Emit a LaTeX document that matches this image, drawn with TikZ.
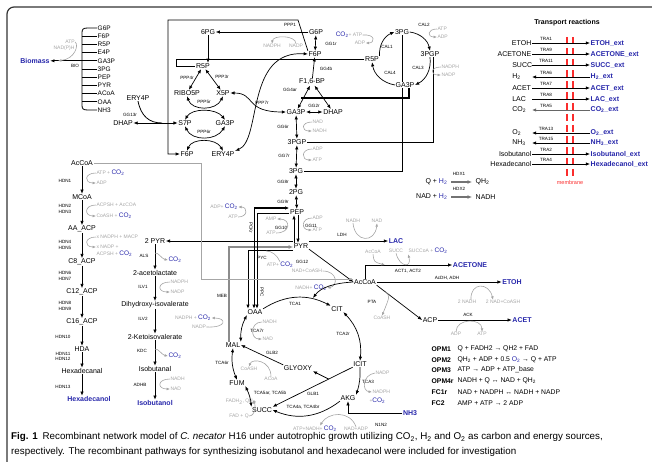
\documentclass[tikz,border=0pt]{standalone}
\usepackage{fontspec}
\setmainfont{Liberation Sans}
\usepackage{tikz}
\usetikzlibrary{arrows.meta}

\definecolor{prodblue}{RGB}{38,38,170}
\definecolor{cofgray}{RGB}{165,165,165}
\definecolor{membred}{RGB}{250,45,45}
\newcommand{\COtwo}{{\color{prodblue}\fontsize{6.5}{6.5}\selectfont CO\textsubscript{2}}}
\newcommand{\Htwo}{{\color{prodblue}H\textsubscript{2}}}

\begin{document}
\begin{tikzpicture}[x=1pt,y=-1pt]
    \tikzset{met/.style = {shape=rectangle,draw=none,inner sep=0.5pt,font=\fontsize{7}{7}\selectfont}}
    \tikzset{bmet/.style = {met,anchor=west,font=\fontsize{6.5}{6.5}\selectfont}}
    \tikzset{prod/.style = {met,text=prodblue,font=\fontsize{7}{7}\selectfont\bfseries}}
    \tikzset{rxn/.style = {inner sep=0pt,font=\fontsize{4.6}{4.6}\selectfont}}
    \tikzset{cof/.style = {inner sep=0.3pt,text=cofgray,font=\fontsize{5}{5}\selectfont}}
    \tikzset{opm/.style = {met,anchor=west,font=\fontsize{6.8}{6.8}\selectfont}}
    \tikzset{edge/.style = {->,> = {Latex[length=4.2pt,width=3.4pt]},line width=0.7pt}}
    \tikzset{edge2/.style = {<->,> = {Latex[length=4.2pt,width=3.4pt]},line width=0.7pt}}
    \tikzset{cofedge/.style = {->,> = {Latex[length=3.4pt,width=2.8pt]},draw=cofgray,line width=0.6pt}}
    \tikzset{link/.style = {line width=0.8pt}}
    \tikzset{fat/.style = {line width=1.1pt}}
    \tikzset{membrane/.style = {draw=membred,line width=1.6pt,dash pattern=on 7.5pt off 3.5pt}}

    \useasboundingbox (0,0) rectangle (652,462);
    \draw[line width=1.2pt,black!80,rounded corners=7pt] (7,462) -- (7,7) -- (652,7);

    % biomass

    \node[prod] (biomass) at (35,60.8) {Biomass};
    \node[bmet] (bg6p) at (97,28) {G6P};
    \node[bmet] (bf6p) at (97,36.2) {F6P};
    \node[bmet] (br5p) at (97,44.4) {R5P};
    \node[bmet] (be4p) at (97,52.6) {E4P};
    \node[bmet] (bga3p) at (97,60.8) {GA3P};
    \node[bmet] (b3pg) at (97,69) {3PG};
    \node[bmet] (bpep) at (97,77.2) {PEP};
    \node[bmet] (bpyr) at (97,85.4) {PYR};
    \node[bmet] (bacoa) at (97,93.6) {ACoA};
    \node[bmet] (boaa) at (97,101.8) {OAA};
    \node[bmet] (bnh3) at (97,110) {NH3};
    \draw[link] (bg6p.west) -- (88,28) .. controls (83,28) and (82,29) .. (82,33) -- (82,105) .. controls (82,109) and (83,110) .. (88,110) -- (bnh3.west);
    \draw[link] (bf6p.west) -- ++(-15,0);
    \draw[link] (br5p.west) -- ++(-15,0);
    \draw[link] (be4p.west) -- ++(-15,0);
    \draw[link] (bga3p.west) -- ++(-15,0);
    \draw[link] (b3pg.west) -- ++(-15,0);
    \draw[link] (bpep.west) -- ++(-15,0);
    \draw[link] (bpyr.west) -- ++(-15,0);
    \draw[link] (bacoa.west) -- ++(-15,0);
    \draw[link] (boaa.west) -- ++(-15,0);
    \draw[edge] ([xshift=-15pt]bga3p.west) -- (biomass.east);
    \node[rxn] (bio) at (75,66) {BIO};
    \node[cof] (batp) at (70,42) {ATP};
    \node[cof] (bnadph) at (64,48) {NAD(P)H};
    \coordinate (bioin) at (58,60.8);
    \draw[cofedge] (batp.east) .. controls (79,45) and (75,59) .. (bioin);

    % pentose phosphate

    \node[met] (sixpg) at (208,32) {6PG};
    \node[met] (r5p) at (203,66) {R5P};
    \node[met] (ribo5p) at (187,93) {RIBO5P};
    \node[met] (x5p) at (223,93) {X5P};
    \node[met] (s7p) at (185,123) {S7P};
    \node[met] (ga3pp) at (225,123) {GA3P};
    \node[met] (f6pp) at (187,154) {F6P};
    \node[met] (ery4p) at (223,154) {ERY4P};
    \node[met] (ery4pl) at (138,98) {ERY4P};
    \node[met] (dhapl) at (123,123) {DHAP};
    \draw[edge] (sixpg) -- (sixpg |- r5p.north);
    \draw[edge2] (r5p) -- (ribo5p);
    \draw[edge2] (r5p) -- (x5p);
    \node[rxn] at (187,78) {PPP4r};
    \node[rxn] at (222,77) {PPP3r};
    \draw[edge2] (ribo5p.south) .. controls (192,111) and (216,111) .. (x5p.south);
    \draw[edge2] (s7p.north) .. controls (192,108) and (216,108) .. (ga3pp.north);
    \node[rxn] at (204,102) {PPP5r};
    \draw[edge2] (s7p.south) .. controls (192,141) and (216,141) .. (ga3pp.south);
    \draw[edge2] (f6pp.north) .. controls (192,138) and (216,138) .. (ery4p.north);
    \node[rxn] at (204,132) {PPP6r};
    \coordinate (gg13in) at (162,123);
    \draw[edge2] (dhapl.east) -- (s7p.west);
    \draw[link] (ery4pl.south) .. controls (141,116) and (149,123) .. (gg13in);
    \node[rxn] at (130,115) {GG13r};

    % glycolysis

    \node[met] (g6p) at (316,32) {G6P};
    \node[met] (f6p) at (315,54) {F6P};
    \node[met] (fbp) at (312,82) {F1,6-BP};
    \node[met] (ga3p) at (296,112) {GA3P};
    \node[met] (dhap) at (333,112) {DHAP};
    \node[met] (bpg) at (297,142) {3PGP};
    \node[met] (pg3) at (296,171) {3PG};
    \node[met] (pg2) at (296,192) {2PG};
    \node[met] (pep) at (297,212) {PEP};
    \node[met] (pyr) at (301,246) {PYR};
    \draw[edge2] (g6p) -- (f6p);
    \node[rxn] at (331,44) {GG1r};
    \draw[edge] (fbp) -- (f6p);
    \node[rxn] at (326,69) {GG4b};
    \draw[edge2] (fbp) -- (ga3p);
    \draw[edge2] (fbp) -- (dhap);
    \node[rxn] at (290,90) {GG4ar};
    \draw[edge2] (ga3p) -- (dhap);
    \node[rxn] at (314,106) {GG2r};
    \draw[edge2] (ga3p) -- (bpg);
    \node[rxn] at (283,127) {GG6r};
    \node[cof,anchor=west] (nadg) at (312,122) {NAD};
    \node[cof,anchor=west] (nadhg) at (312,131) {NADH};
    \draw[cofedge] (nadg.west) .. controls (301,122) and (301,131) .. (nadhg.west);
    \draw[edge2] (bpg) -- (pg3);
    \node[rxn] at (284,156) {GG7r};
    \node[cof,anchor=west] (adpg) at (312,149) {ADP};
    \node[cof,anchor=west] (atpg) at (312,160) {ATP};
    \draw[cofedge] (adpg.west) .. controls (301,149) and (301,160) .. (atpg.west);
    \draw[edge2] (pg3) -- (pg2);
    \node[rxn] at (283,182) {GG8r};
    \draw[edge2] (pg2) -- (pep);
    \node[rxn] at (283,202) {GG9r};
    \draw[edge] ([xshift=-7pt]pyr.north) -- ([xshift=-3pt]pep.south);
    \draw[edge] ([xshift=1pt]pep.south) -- ([xshift=-3pt]pyr.north);
    \node[rxn] at (281,228) {GG10};
    \node[rxn] at (311,226) {GG11};
    \node[cof] (ampg) at (271,219) {AMP};
    \node[cof] (atpg10) at (271,233) {ATP};
    \draw[cofedge] (atpg10.east) .. controls (291,233) and (291,219) .. (ampg.east);
    \node[cof,anchor=west] (adpg11) at (312,218) {ADP};
    \node[cof,anchor=west] (atpg11) at (312,230) {ATP};
    \draw[cofedge] (adpg11.west) .. controls (301,218) and (301,230) .. (atpg11.west);

    % F6P box and R5P link

    \draw[edge] (f6p.north west) -- (298,20) -- (168,20) |- (f6pp.west);
    \draw[edge] (g6p.west) -- (sixpg.east);
    \node[rxn] at (290,25) {PPP1};
    \node[cof] (nadph1) at (272,46) {NADPH};
    \node[cof] (nadp1) at (296,46) {NADP};
    \draw[cofedge] (nadp1.north) .. controls (296,35) and (273,35) .. (nadph1.north);
    \node[rxn] at (262,103) {PPP7r};
    \draw[edge2] (x5p.east) .. controls (256,93) and (244,112) .. (ga3p.west);
    \draw[edge2] (f6p.west) .. controls (245,50) and (262,140) .. (ery4p.north east);

    % calvin cycle

    \node[met] (r5pc) at (372,59) {R5P};
    \node[met] (pg3c) at (402,32) {3PG};
    \node[met] (bpgc) at (430,54) {3PGP};
    \draw[link] (r5pc.west) -- (176,59) |- (r5p.west);
    \draw[link] (pg3c.south) |- (pg3.east);
    \draw[link] ([xshift=3pt]bpgc.south) |- (bpg.east);
    \node[met,fill=white] (ga3pc) at (405,85) {GA3P};
    \coordinate (ga3pj) at (301,98);
    \draw[fat] ([xshift=4pt]ga3pc.south) |- (ga3pj);
    \draw[edge] (r5pc.north east) to[bend left=35] (pg3c.west);
    \node[rxn] at (387,47) {CAL1};
    \node[cof] (catp) at (349,35) {\COtwo+ ATP};
    \node[cof] (cadp) at (360,43) {ADP};
    \draw[cofedge] (catp.east) .. controls (376,34) and (375,43) .. (cadp.east);
    \draw[edge] (pg3c.east) to[bend left=35] (bpgc.north);
    \node[rxn] at (424,25) {CAL2};
    \node[cof,anchor=west] (catp2) at (437,29) {ATP};
    \node[cof,anchor=west] (cadp2) at (437,37) {ADP};
    \draw[cofedge] (catp2.west) .. controls (427,29) and (427,37) .. (cadp2.west);
    \draw[edge] (bpgc.south) to[bend left=35] (ga3pc.east);
    \node[rxn] at (418,68) {CAL3};
    \node[cof,anchor=west] (cnadph) at (441,67) {NADPH};
    \node[cof,anchor=west] (cnadp) at (441,75) {NADP};
    \draw[cofedge] (cnadph.west) .. controls (430,67) and (430,75) .. (cnadp.west);
    \draw[edge] (ga3pc.west) to[bend left=35] (r5pc.south);
    \node[rxn] at (390,73) {CAL4};

    % anaplerotic and pyruvate nodes

    \node[met] (twopyr) at (155,241) {2 PYR};
    \node[prod] (lac) at (396,241) {LAC};
    \node[met] (oaa) at (255,312) {OAA};
    \node[met] (mal) at (233,345) {MAL};
    \node[met] (accoa) at (365,282) {AcCoA};
    \draw[edge] ([yshift=5pt]pyr.west) -- (twopyr.east);
    \draw[edge] ([yshift=5pt]pyr.east) -- (lac.west);
    \node[rxn] at (342,235) {LDH};
    \node[cof] (nadhl) at (353,221) {NADH};
    \node[cof] (nadl) at (377,221) {NAD};
    \draw[cofedge] (nadhl.south) .. controls (355,243) and (375,243) .. (nadl.south);
    \draw[line width=1.5pt,black!45,-{Latex[length=4.5pt,width=4pt]}] ([xshift=-4pt]mal.north) |- ([yshift=-1pt]pyr.west);
    \node[rxn] at (222,296) {MEB};
    \node[cof] (nadpco2) at (193,318) {NADPH + \COtwo};
    \node[cof] (nadpm) at (199,327) {NADP};
    \draw[cofedge] (nadpm.east) .. controls (227,328) and (227,318) .. (nadpco2.east);
    \draw[edge,line width=1pt] ([yshift=-4pt]pyr.west) -| ([xshift=-7pt]oaa.north);
    \draw[edge2,line width=1pt] ([xshift=-1pt]oaa.north) |- ([yshift=4pt]pep.west);
    \draw[edge,line width=1pt] ([yshift=-1pt]pep.west) -| ([xshift=2pt]oaa.north);
    \node[rxn,rotate=-90] at (251,228) {PCKr};
    \node[rxn,rotate=-90] at (262,292) {PPC};
    \node[rxn] at (262,258) {PYC};
    \node[cof] (atpco2p) at (280,265) {ATP+ \COtwo};
    \draw[draw=cofgray,line width=0.6pt] (atpco2p.north) .. controls (277,255) and (272,251) .. (266,251);
    \node[cof] (adpco2) at (224,207) {ADP+ \COtwo};
    \node[cof] (atpck) at (233,217) {ATP};
    \draw[cofedge] (atpck.east) .. controls (248,217) and (248,207) .. (adpco2.east);

    % acetyl-CoA branch

    \draw[edge] (pyr.south east) -- (accoa.west);
    \node[rxn] at (302,262) {GG12};
    \node[cof] (nadcoa) at (307,271) {NAD+CoASH};
    \node[cof] (nadhco2) at (311,288) {NADH+ \COtwo};
    \draw[cofedge] (nadcoa.east) .. controls (338,271) and (338,286) .. (nadhco2.east);
    \node[prod] (acetone) at (470,265) {ACETONE};
    \draw[edge] (accoa.north) |- (acetone.west);
    \node[rxn] at (408,271) {ACT1, ACT2};
    \node[cof] (accoag) at (373,252) {AcCoA};
    \node[cof] (succg) at (396,251) {SUCC};
    \node[cof] (succoa) at (428,251) {SUCCoA + \COtwo};
    \coordinate (actin) at (385,265);
    \draw[cofedge] (accoag.south) .. controls (374,262) .. (actin);
    \draw[cofedge] (succg.south) .. controls (400,268) and (412,268) .. (succoa.south west);
    \node[prod] (etoh) at (512,282) {ETOH};
    \draw[edge] (accoa.east) -- (etoh.west);
    \node[rxn] at (447,278) {AcDH, ADH};
    \node[cof] (nadh2) at (467,302) {2 NADH};
    \node[cof] (nadcoa2) at (503,302) {2 NAD+CoASH};
    \draw[cofedge] ([xshift=4pt]nadh2.north) .. controls (470,282) and (489,282) .. ([xshift=-10pt]nadcoa2.north);
    \node[met] (acp) at (430,320) {ACP};
    \node[prod] (acet) at (522,320) {ACET};
    \draw[edge] (accoa.south east) -- coordinate[pos=0.2] (ptam) (acp.west);
    \node[rxn] at (372,302) {PTA};
    \node[cof] (coashp) at (382,318) {CoASH};
    \draw[cofedge] (ptam) .. controls (390,296) .. (coashp.north);
    \draw[edge] (acp.east) -- (acet.west);
    \node[rxn] at (468,315) {ACK};
    \node[cof] (adpk) at (456,334) {ADP};
    \node[cof] (atpk) at (482,334) {ATP};
    \draw[cofedge] (adpk.north) .. controls (456,318) and (482,318) .. (atpk.north);
    \coordinate (acbend) at (201,163);

    % TCA cycle

    \node[met] (cit) at (337,309) {CIT};
    \node[met] (icit) at (360,364) {ICIT};
    \node[met] (akg) at (348,398) {AKG};
    \node[met] (succ) at (262,410) {SUCC};
    \node[met] (fum) at (237,383) {FUM};
    \node[met] (glyoxy) at (298,368) {GLYOXY};
    \coordinate (tca1in) at (313,298);
    \draw[edge] (oaa.north east) to[bend left=30] (cit.north west);
    \draw[edge] (accoa.west) .. controls (335,283) and (321,287) .. (tca1in);
    \node[rxn] at (295,304) {TCA1};
    \draw[edge2] (cit.south east) to[bend left=25] (icit.north);
    \node[rxn] at (343,334) {TCA2r};
    \draw[edge] (icit.south) to[bend left=10] (akg.north east);
    \node[rxn] at (368,382) {TCA3};
    \node[cof,anchor=west] (nadpt) at (375,373) {NADP};
    \node[cof,anchor=west] (nadpht) at (372,392) {NADPH};
    \node[cof,anchor=west] at (369,401) {+\COtwo};
    \draw[cofedge] (nadpt.west) .. controls (362,375) and (362,391) .. (nadpht.west);
    \draw[edge] (akg.south west) to[bend left=30] (succ.east);
    \node[rxn] at (303,407) {TCA4a, TCA4br};
    \node[cof] (atpnadh) at (315,429) {ATP+NADH+ \COtwo};
    \node[cof] (nadadp) at (356,429) {NAD+ADP};
    \draw[cofedge] (nadadp.north) .. controls (350,410) and (328,412) .. ([xshift=5pt]atpnadh.north);
    \node[prod] (nh3) at (410,413) {NH3};
    \draw[edge] (nh3.west) -| (akg.south);
    \node[rxn] at (381,425) {N1N2};
    \draw[edge2] (succ.north west) to[bend right=10] (fum.south east);
    \node[rxn] at (270,393) {TCA5ar, TCA5b};
    \node[cof] (fadh2) at (241,402) {FADH\textsubscript{2}, QH\textsubscript{2}};
    \node[cof] (fadq) at (239,416) {FAD + Q};
    \draw[cofedge] (fadq.east) .. controls (256,416) and (256,402) .. (fadh2.east);
    \draw[edge2] (fum.north) to[bend left=15] (mal.south);
    \node[rxn] at (222,363) {TCA6r};
    \draw[edge2] (mal.north east) to[bend left=15] (oaa.south west);
    \node[rxn] at (257,331) {TCA7r};
    \node[cof,anchor=west] (nadht) at (262,322) {NADH};
    \node[cof,anchor=west] (nadt) at (262,339) {NAD};
    \draw[cofedge] (nadht.west) .. controls (250,322) and (250,339) .. (nadt.west);
    \draw[edge] (icit.south west) -- coordinate[pos=0.3] (glbm) (succ.north east);
    \draw[edge] (glbm) -- (glyoxy.south east);
    \node[rxn] at (313,394) {GLB1};
    \draw[edge] (glyoxy.north west) -- (mal.east);
    \node[rxn] at (272,353) {GLB2};
    \node[cof] (coashg) at (249,369) {CoASH};
    \node[cof] (acoag) at (271,379) {ACoA};
    \draw[cofedge] (acoag.north) .. controls (271,360) and (252,358) .. (coashg.north);

    % hexadecanol pathway

    \node[met] (accoah) at (82,163) {AcCoA};
    \node[met] (mcoa) at (82,197) {MCoA};
    \node[met] (aaacp) at (82,229) {AA\_ACP};
    \node[met] (c8acp) at (82,262) {C8\_ACP};
    \node[met] (c12acp) at (82,292) {C12\_ACP};
    \node[met] (c16acp) at (82,322) {C16\_ACP};
    \node[met] (hda) at (82,349) {HDA};
    \node[met] (hexanal) at (82,371) {Hexadecanal};
    \node[prod] (hexanol) at (89,399) {Hexadecanol};
    \draw[gray!70,line width=0.9pt] ([yshift=3pt]accoa.west) -| (acbend) -- (accoah.east);
    \draw[edge] (accoah) -- (mcoa);
    \node[rxn] at (65,181) {HDN1};
    \node[cof,anchor=west] (atph) at (96,173) {ATP + \COtwo};
    \node[cof,anchor=west] (adph) at (96,183) {ADP};
    \draw[cofedge] (atph.west) .. controls (84,173) and (84,183) .. (adph.west);
    \draw[edge] (mcoa) -- (aaacp);
    \node[rxn] at (65,206) {HDN2};
    \node[rxn] at (65,212) {HDN3};
    \node[cof,anchor=west] (acpsh) at (96,205) {ACPSH + AcCOA};
    \node[cof,anchor=west] (coashh) at (96,216) {CoASH + \COtwo};
    \draw[cofedge] (acpsh.west) .. controls (84,205) and (84,216) .. (coashh.west);
    \draw[edge] (aaacp) -- (c8acp);
    \node[rxn] at (65,242) {HDN4};
    \node[rxn] at (65,248) {HDN5};
    \node[cof,anchor=west] (xnadph) at (96,237) {x NADPH + MACP};
    \node[cof,anchor=west] (xnadp) at (96,247) {x NADP +};
    \node[cof,anchor=west] at (96,254) {ACPSH + \COtwo};
    \draw[cofedge] (xnadph.west) .. controls (84,237) and (84,247) .. (xnadp.west);
    \draw[edge] (c8acp) -- (c12acp);
    \node[rxn] at (65,273) {HDN6};
    \node[rxn] at (65,279) {HDN7};
    \draw[edge] (c12acp) -- (c16acp);
    \node[rxn] at (65,303) {HDN8};
    \node[rxn] at (65,309) {HDN9};
    \draw[edge] (c16acp) -- (hda);
    \node[rxn] at (63,337) {HDN10};
    \draw[edge] (hda) -- (hexanal);
    \node[rxn] at (63,354) {HDN11};
    \node[rxn] at (63,359) {HDN12};
    \draw[edge] (hexanal.south) -- (hexanal.south |- hexanol.north);
    \node[rxn] at (63,387) {HDN13};

    % isobutanol pathway

    \node[met] (acetolac) at (155,273) {2-acetolactate};
    \node[met] (dihyd) at (155,305) {Dihydroxy-isovalerate};
    \node[met] (keto) at (155,337) {2-Ketoisovalerate};
    \node[met] (isobutanal) at (155,369) {Isobutanal};
    \node[prod] (isobutanol) at (155,403) {Isobutanol};
    \draw[edge] (twopyr) -- coordinate[pos=0.35] (alsm) (acetolac);
    \node[rxn] at (144,256) {ALS};
    \node[cof,anchor=west] (co2als) at (168,260) {\COtwo};
    \draw[cofedge] (alsm) .. controls (158,252) and (162,259) .. (co2als.west);
    \draw[edge] (acetolac) -- (dihyd);
    \node[rxn] at (143,287) {ILV1};
    \node[cof,anchor=west] (nadphi) at (170,282) {NADPH};
    \node[cof,anchor=west] (nadpi) at (170,292) {NADP};
    \draw[cofedge] (nadphi.west) .. controls (157,282) and (157,292) .. (nadpi.west);
    \draw[edge] (dihyd) -- (keto);
    \node[rxn] at (143,319) {ILV2};
    \draw[edge] (keto) -- coordinate[pos=0.35] (kdcm) (isobutanal);
    \node[rxn] at (142,351) {KDC};
    \node[cof,anchor=west] (co2kdc) at (168,356) {\COtwo};
    \draw[cofedge] (kdcm) .. controls (158,348) and (162,355) .. (co2kdc.west);
    \draw[edge] (isobutanal) -- (isobutanol);
    \node[rxn] at (140,385) {ADHB};
    \node[cof,anchor=west] (nadhi) at (170,379) {NADH};
    \node[cof,anchor=west] (nadi) at (170,389) {NAD};
    \draw[cofedge] (nadhi.west) .. controls (157,379) and (157,389) .. (nadi.west);

    % transport reactions

    \node[met,font=\fontsize{7}{7}\selectfont\bfseries] (trtitle) at (567,23) {Transport reactions};
    \draw[membrane] (567,37) -- (567,177);
    \draw[membrane] (573,37) -- (573,177);
    \node[met,text=membred,font=\fontsize{5.5}{5.5}\selectfont] (membr) at (570,183) {membrane};
    \node[met,anchor=east] (tetoh) at (532,43) {ETOH};
    \node[prod,anchor=west] (tetohx) at (590,43) {ETOH\_ext};
    \draw[edge] (tetoh.east) -- (tetohx.west);
    \node[rxn] at (546,39) {TRA1};
    \node[met,anchor=east] (tacetone) at (532,54) {ACETONE};
    \node[prod,anchor=west] (tacetonex) at (590,54) {ACETONE\_ext};
    \draw[edge] (tacetone.east) -- (tacetonex.west);
    \node[rxn] at (546,50) {TRA9};
    \node[met,anchor=east,text width=19pt,align=left] (tsucc) at (532,65) {SUCC};
    \node[prod,anchor=west] (tsuccx) at (590,65) {SUCC\_ext};
    \draw[edge] (tsucc.east) -- (tsuccx.west);
    \node[rxn] at (546,61) {TRA11};
    \node[met,anchor=east,text width=19pt,align=left] (th2) at (532,77) {H\textsubscript{2}};
    \node[prod,anchor=west] (th2x) at (590,77) {H\textsubscript{2}\_ext};
    \draw[edge] (th2x.west) -- (th2.east);
    \node[rxn] at (546,73) {TRA6};
    \node[met,anchor=east,text width=19pt,align=left] (tacet) at (532,88) {ACET};
    \node[prod,anchor=west] (tacetx) at (590,88) {ACET\_ext};
    \draw[edge] (tacet.east) -- (tacetx.west);
    \node[rxn] at (546,84) {TRA7};
    \node[met,anchor=east,text width=19pt,align=left] (tlac) at (532,99) {LAC};
    \node[prod,anchor=west] (tlacx) at (590,99) {LAC\_ext};
    \draw[edge] (tlac.east) -- (tlacx.west);
    \node[rxn] at (546,95) {TRA8};
    \node[met,anchor=east,text width=19pt,align=left] (tco2) at (532,110) {CO\textsubscript{2}};
    \node[prod,anchor=west] (tco2x) at (590,110) {CO\textsubscript{2}\_ext};
    \draw[edge,black!60] (tco2x.west) -- (tco2.east);
    \node[rxn] at (546,106) {TRA5};
    \node[met,anchor=east,text width=19pt,align=left] (to2) at (532,133) {O\textsubscript{2}};
    \node[prod,anchor=west] (to2x) at (590,133) {O\textsubscript{2}\_ext};
    \draw[edge] (to2x.west) -- (to2.east);
    \node[rxn] at (546,129) {TRA13};
    \node[met,anchor=east,text width=19pt,align=left] (tnh3) at (532,143) {NH\textsubscript{3}};
    \node[prod,anchor=west] (tnh3x) at (590,143) {NH\textsubscript{3}\_ext};
    \draw[edge] (tnh3x.west) -- (tnh3.east);
    \node[rxn] at (546,139) {TRA15};
    \node[met,anchor=east] (tisob) at (532,154) {Isobutanol};
    \node[prod,anchor=west] (tisobx) at (590,154) {Isobutanol\_ext};
    \draw[edge] (tisob.east) -- (tisobx.west);
    \node[rxn] at (546,150) {TRA2};
    \node[met,anchor=east] (thexa) at (532,164) {Hexadecanol};
    \node[prod,anchor=west] (thexax) at (590,164) {Hexadecanol\_ext};
    \draw[edge] (thexa.east) -- (thexax.west);
    \node[rxn] at (546,160) {TRA4};

    % hydrogenases

    \node[met,anchor=east] (qh) at (448,182) {Q + \Htwo};
    \node[met,anchor=west] (qh2) at (475,182) {QH\textsubscript{2}};
    \draw[-{Latex[length=4.5pt,width=4pt]},line width=1.4pt,black!55,shorten <=3pt,shorten >=3pt] (qh.east) -- (qh2.west);
    \node[rxn] at (459,174) {HDX1};
    \node[met,anchor=east] (nadhh) at (448,197) {NAD + \Htwo};
    \node[met,anchor=west] (nadhx) at (475,197) {NADH};
    \draw[-{Latex[length=4.5pt,width=4pt]},line width=1.4pt,black!55,shorten <=3pt,shorten >=3pt] (nadhh.east) -- (nadhx.west);
    \node[rxn] at (459,189) {HDX2};

    % energy reactions

    \node[opm,font=\fontsize{6.8}{6.8}\selectfont\bfseries] (opm1) at (431,349) {OPM1};
    \node[opm] (opm1eq) at (457,349) {Q + FADH2 → QH2 + FAD};
    \node[opm,font=\fontsize{6.8}{6.8}\selectfont\bfseries] (opm2) at (431,360) {OPM2};
    \node[opm] (opm2eq) at (457,360) {QH\textsubscript{2} + ADP + 0.5 {\color{prodblue}O\textsubscript{2}} → Q + ATP};
    \node[opm,font=\fontsize{6.8}{6.8}\selectfont\bfseries] (opm3) at (431,370) {OPM3};
    \node[opm] (opm3eq) at (457,370) {ATP → ADP + ATP\_base};
    \node[opm,font=\fontsize{6.8}{6.8}\selectfont\bfseries] (opm4) at (431,381) {OPM4r};
    \node[opm] (opm4eq) at (457,381) {NADH + Q ↔ NAD + QH\textsubscript{2}};
    \node[opm,font=\fontsize{6.8}{6.8}\selectfont\bfseries] (fc1) at (431,392) {FC1r};
    \node[opm] (fc1eq) at (457,392) {NAD + NADPH ↔ NADH + NADP};
    \node[opm,font=\fontsize{6.8}{6.8}\selectfont\bfseries] (fc2) at (431,403) {FC2};
    \node[opm] (fc2eq) at (457,403) {AMP + ATP → 2 ADP};

    % caption

    \node[anchor=west,inner sep=0pt,align=left,font=\fontsize{9.8}{15}\selectfont] (caption) at (11,444.5) {\textbf{Fig. 1}\enspace Recombinant network model of \textit{C. necator} H16 under autotrophic growth utilizing CO\textsubscript{2}, H\textsubscript{2} and O\textsubscript{2} as carbon and energy sources,\\respectively. The recombinant pathways for synthesizing isobutanol and hexadecanol were included for investigation};
\end{tikzpicture}
\end{document}
